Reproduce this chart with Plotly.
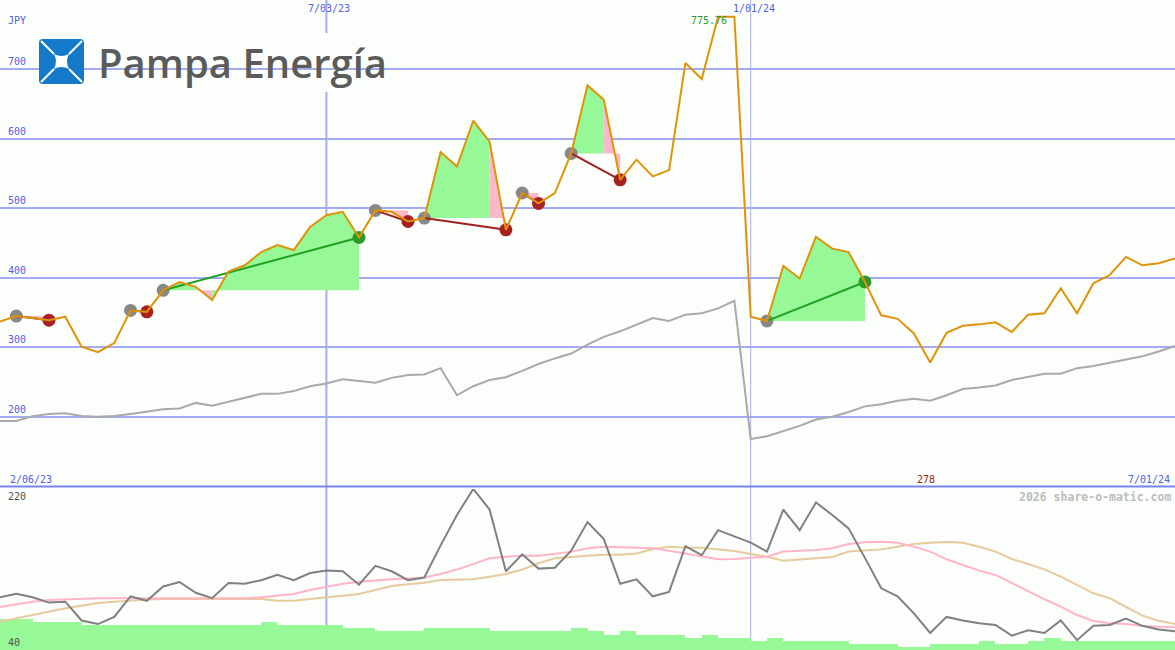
import pandas as pd
import plotly.graph_objects as go

W, H = 1175, 650

# weekly closes (JPY), Monday dates
dates = pd.date_range("2023-02-13", periods=73, freq="7D")
period_start = pd.Timestamp("2023-02-06")

price = [337, 345, 342, 339, 344, 301, 293, 306, 353, 351, 382, 394, 387, 368, 409, 418, 437, 447, 440, 473,
         490, 495, 458, 497, 495, 481, 486, 581, 560, 626, 596, 469, 522, 507, 522, 579, 677, 656, 541, 570,
         546, 555, 709, 686, 775.76, 775.76, 344, 338, 417, 399, 459, 442, 437, 394, 346, 341, 320, 278, 321, 331,
         333, 336, 322, 347, 349, 385, 349, 392, 404, 430, 418, 421, 428]

index_line = [194, 194, 201, 204, 205, 201, 200, 201, 204, 207, 211, 212, 220, 216, 222, 228, 233, 233, 237, 244,
              248, 254, 252, 249, 256, 260, 261, 270, 231, 244, 253, 257, 266, 276, 284, 291, 304, 315, 323, 332,
              342, 338, 347, 349, 356, 367, 168, 172, 179, 187, 196, 200, 207, 215, 218, 223, 226, 223, 231, 240,
              242, 245, 253, 257, 262, 262, 270, 273, 278, 282, 287, 294, 302]

osc = [99, 103, 99, 93, 94, 73, 69, 77, 100, 95, 111, 116, 104, 98, 115, 114, 118, 124, 118, 126,
       129, 128, 113, 134, 128, 118, 121, 157, 191, 220, 197, 128, 147, 131, 132, 151, 183, 164, 114, 119,
       100, 105, 156, 146, 174, 167, 160, 150, 197, 174, 205, 191, 176, 143, 109, 100, 81, 59, 77, 73,
       70, 68, 56, 62, 59, 73, 51, 67, 68, 75, 67, 63, 61]

osc_fast = [88, 91, 94, 96, 96.7, 97.8, 97.8, 97.8, 97.8, 97.8, 97.8, 97.8, 97.8, 97.8, 97.8, 97.8, 99, 101, 102.6, 107,
            110.8, 114, 116.4, 118, 119, 120, 121, 125, 130, 136, 142.5, 144.3, 145.5, 145.5, 147.3, 149.7, 153.7, 155.5, 154.8, 154.4,
            153.7, 151, 148, 145, 141.4, 141.8, 143.2, 144.3, 150, 151, 151.8, 153.7, 158.5, 160.4, 161, 160, 155.5, 150, 141.4, 135,
            128.7, 123.9, 114.6, 105.2, 96.7, 88.4, 79.1, 72.4, 69.8, 69, 66.8, 66, 65.4]

osc_slow = [71.7, 75.5, 79, 83, 86.6, 89.5, 92.5, 94, 95.5, 96.5, 97, 97, 97, 97, 97, 97, 97, 95.2, 95.2, 97,
            99, 101, 102.6, 107, 111.6, 113.5, 115.2, 118.3, 119, 119, 122, 125, 130, 137, 142.5, 144.3, 145.4, 146.5, 146.5, 148,
            153, 155.5, 154.4, 154.4, 152.9, 150.7, 147.3, 144.3, 139.8, 141, 142.5, 144, 150, 151, 152.5, 155.5, 158.5, 160, 160.7, 160,
            155.5, 150, 141.8, 136.2, 130.2, 122, 112.7, 103.4, 97.8, 88.5, 78.4, 72.8, 69]

# relative weekly volume (% of lower panel height)
volume = [19.3, 19.3, 17.2, 17.2, 17.2, 15.3, 15.3, 15.3, 15.3, 15.3, 15.3, 15.3, 15.3, 15.3, 15.3, 15.3, 17.2, 15.3, 15.3, 15.3,
          15.3, 13.7, 13.7, 11.8, 11.8, 11.8, 13.7, 13.7, 13.7, 13.7, 11.8, 11.8, 11.8, 11.8, 11.8, 13.7, 11.8, 9.3, 11.8, 9.3,
          9.3, 9.3, 7.5, 9.3, 7.5, 7.5, 5.6, 7.5, 5.6, 5.6, 5.6, 5.6, 3.7, 3.7, 3.7, 2.0, 2.0, 3.7, 3.7, 3.7,
          5.6, 3.7, 3.7, 5.6, 7.5, 5.6, 5.6, 5.6, 5.6, 5.6, 5.6, 5.6, 5.6]

# trades: (entry week, exit week)
trades = [(1, 3), (8, 9), (10, 22), (23, 25), (26, 31), (32, 33), (35, 38), (47, 53)]

grid_levels = [200, 300, 400, 500, 600, 700]
marker_dates = ["2023-07-03", "2024-01-01"]

BG = "#fcfefc"
BLUE_TXT = "#4f5fe6"
GRID = "#a3acf3"
MONO = "DejaVu Sans Mono"


def px(x):
    return x / W


def py(y):
    return 1 - y / H


def fmt(d):
    d = pd.Timestamp(d)
    return f"{d.month}/{d.day:02d}/{d.year % 100:02d}"


fig = go.Figure()

# trade fills: green where the segment ends above entry, pink where below
green_x, green_y, pink_x, pink_y = [], [], [], []
for a, b in trades:
    e = price[a]
    for k in range(a, b):
        xs = [dates[k], dates[k], dates[k + 1], dates[k + 1], dates[k], None]
        ys = [e, price[k], price[k + 1], e, e, None]
        if price[k + 1] >= e:
            green_x += xs
            green_y += ys
        else:
            pink_x += xs
            pink_y += ys

fig.add_trace(go.Scatter(x=dates, y=index_line, mode="lines", line=dict(color="#a9a9a9", width=2),
                         hoverinfo="skip"))
fig.add_trace(go.Scatter(x=green_x, y=green_y, fill="toself", fillcolor="#96f896", mode="none",
                         hoverinfo="skip"))
fig.add_trace(go.Scatter(x=pink_x, y=pink_y, fill="toself", fillcolor="#fbb8cc", mode="none",
                         hoverinfo="skip"))

entries = [a for a, b in trades]
wins = [b for a, b in trades if price[b] >= price[a]]
losses = [b for a, b in trades if price[b] < price[a]]

fig.add_trace(go.Scatter(x=[dates[i] for i in entries], y=[price[i] for i in entries], mode="markers",
                         marker=dict(size=13, color="#888888")))
fig.add_trace(go.Scatter(x=[dates[i] for i in losses], y=[price[i] for i in losses], mode="markers",
                         marker=dict(size=13, color="#a82222")))
fig.add_trace(go.Scatter(x=[dates[i] for i in wins], y=[price[i] for i in wins], mode="markers",
                         marker=dict(size=13, color="#2a9a2a")))

for a, b in trades:
    col = "#22a022" if price[b] >= price[a] else "#a02020"
    fig.add_trace(go.Scatter(x=[dates[a], dates[b]], y=[price[a], price[b]], mode="lines",
                             line=dict(color=col, width=2), hoverinfo="skip"))

fig.add_trace(go.Scatter(x=dates, y=price, mode="lines", line=dict(color="#de9308", width=2)))

# lower panel
fig.add_trace(go.Bar(x=dates, y=[v * 1.8 for v in volume], base=40, offset=0,
                     width=7 * 24 * 3600 * 1000, marker=dict(color="#96f896", line=dict(width=0)),
                     yaxis="y2"))
fig.add_trace(go.Scatter(x=dates, y=osc_slow, mode="lines", line=dict(color="#e6cb9b", width=2), yaxis="y2"))
fig.add_trace(go.Scatter(x=dates, y=osc_fast, mode="lines", line=dict(color="#ffb4c8", width=2), yaxis="y2"))
fig.add_trace(go.Scatter(x=dates, y=osc, mode="lines", line=dict(color="#808080", width=2), yaxis="y2"))

upper_bottom = py(487)
fig.update_layout(
    width=W, height=H, margin=dict(l=0, r=0, t=0, b=0),
    paper_bgcolor=BG, plot_bgcolor=BG, showlegend=False, bargap=0,
    xaxis=dict(range=[dates[0], dates[-1]], showgrid=False, showticklabels=False, zeroline=False,
               showline=False, ticks=""),
    yaxis=dict(domain=[upper_bottom, 1], range=[99, 799.7], tickvals=grid_levels, showticklabels=False,
               gridcolor=GRID, gridwidth=2, zeroline=False, ticks=""),
    yaxis2=dict(domain=[0, py(489)], range=[40, 220], showgrid=False, showticklabels=False,
                zeroline=False, ticks=""),
)

shapes = []
for i, d in enumerate(marker_dates):
    shapes.append(dict(type="line", xref="x", yref="paper", x0=d, x1=d, y0=0, y1=1, layer="below",
                       line=dict(color=GRID if i == 0 else "#a8aee6", width=2 if i == 0 else 1)))
shapes.append(dict(type="line", xref="paper", yref="paper", x0=0, x1=1, y0=py(486.5), y1=py(486.5),
                   line=dict(color="#7884f0", width=2), layer="above"))

# logo
shapes.append(dict(type="rect", xref="paper", yref="paper", x0=px(35), x1=px(386), y0=py(92), y1=py(33),
                   fillcolor=BG, line=dict(width=0), layer="between"))


def path(pts):
    s = ""
    for cmd, coords in pts:
        s += cmd
        s += " ".join(f"{px(x):.5f},{py(y):.5f}" for x, y in coords) + " "
    return s + "Z"


r = 4
x0, y0, x1, y1 = 39, 39, 84, 84
shapes.append(dict(type="path", xref="paper", yref="paper", fillcolor="#1479c9", line=dict(width=0),
                   layer="above",
                   path=path([("M", [(x0 + r, y0)]), ("L", [(x1 - r, y0)]), ("Q", [(x1, y0), (x1, y0 + r)]),
                              ("L", [(x1, y1 - r)]), ("Q", [(x1, y1), (x1 - r, y1)]), ("L", [(x0 + r, y1)]),
                              ("Q", [(x0, y1), (x0, y1 - r)]), ("L", [(x0, y0 + r)]),
                              ("Q", [(x0, y0), (x0 + r, y0)])])))
c0, c1 = 54, 69
for (ax, ay), (bx, by) in [((41, 41), (c0, c0)), ((82, 41), (c1, c0)), ((41, 82), (c0, c1)), ((82, 82), (c1, c1))]:
    shapes.append(dict(type="line", xref="paper", yref="paper", x0=px(ax), y0=py(ay), x1=px(bx), y1=py(by),
                       line=dict(color="white", width=2), layer="above"))
m = (c0 + c1) / 2
shapes.append(dict(type="path", xref="paper", yref="paper", fillcolor="white", line=dict(width=0), layer="above",
                   path=path([("M", [(c0, c0)]), ("Q", [(m, c0 + 4), (c1, c0)]), ("Q", [(c1 - 4, m), (c1, c1)]),
                              ("Q", [(m, c1 - 4), (c0, c1)]), ("Q", [(c0 + 4, m), (c0, c0)])])))
fig.update_layout(shapes=shapes)

ann = []
ann.append(dict(text="Pampa Energía", xref="paper", yref="paper", x=px(96), y=py(63), xanchor="left",
                yanchor="middle", showarrow=False,
                font=dict(family="Open Sans", size=40, weight=600, color="#5b5b5b")))
ann.append(dict(text="JPY", xref="paper", yref="paper", x=px(6), y=py(21), xanchor="left", yanchor="middle",
                showarrow=False, font=dict(family=MONO, size=10, color=BLUE_TXT)))
for v in grid_levels:
    ann.append(dict(text=str(v), xref="paper", yref="y", x=px(6), y=v, xanchor="left", yanchor="bottom",
                    yshift=0, showarrow=False, font=dict(family=MONO, size=10, color=BLUE_TXT)))
for d in marker_dates:
    ann.append(dict(text=fmt(d), xref="x", yref="paper", x=d, y=py(8), xanchor="center", yanchor="middle",
                    xshift=3, showarrow=False, font=dict(family=MONO, size=10, color=BLUE_TXT)))
ann.append(dict(text=fmt(period_start), xref="paper", yref="paper", x=px(8), y=py(479), xanchor="left",
                yanchor="middle", showarrow=False, font=dict(family=MONO, size=10, color=BLUE_TXT)))
ann.append(dict(text=fmt(dates[-1]), xref="paper", yref="paper", x=px(1172), y=py(479), xanchor="right",
                yanchor="middle", showarrow=False, font=dict(family=MONO, size=10, color=BLUE_TXT)))

imax = max(range(len(price)), key=lambda i: price[i])
imin = min(range(len(price)), key=lambda i: price[i])
ann.append(dict(text=f"{price[imax]:.2f}", xref="x", yref="y", x=dates[imax], y=price[imax], xanchor="right",
                yanchor="middle", xshift=11, yshift=-4, showarrow=False,
                font=dict(family=MONO, size=10, color="#2a9a2a")))
ann.append(dict(text=f"{price[imin]:g}", xref="x", yref="paper", x=dates[imin], y=py(479), xanchor="center",
                yanchor="middle", xshift=-4, showarrow=False, font=dict(family=MONO, size=10, color="#a02020")))

ann.append(dict(text="220", xref="paper", yref="paper", x=px(6), y=py(496), xanchor="left", yanchor="middle",
                showarrow=False, font=dict(family=MONO, size=10, color="#505050")))
ann.append(dict(text="40", xref="paper", yref="paper", x=px(6), y=py(642), xanchor="left", yanchor="middle",
                showarrow=False, font=dict(family=MONO, size=10, color="#505050")))
ann.append(dict(text="2026 share-o-matic.com", xref="paper", yref="paper", x=px(1173), y=py(497),
                xanchor="right", yanchor="middle", showarrow=False,
                font=dict(family=MONO, size=11.5, weight="bold", color="#bcbcbc")))
fig.update_layout(annotations=ann)

fig.write_html("out.html", config={"displayModeBar": False},
               post_script="document.body.style.margin='0';document.body.style.overflow='hidden';")
